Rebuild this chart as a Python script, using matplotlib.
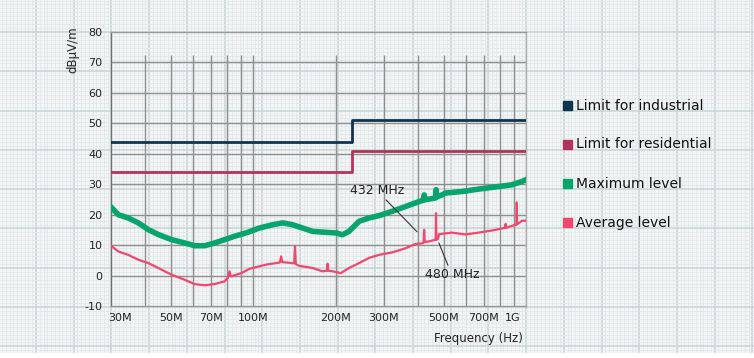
import matplotlib
matplotlib.use('Agg')
import matplotlib.pyplot as plt
from matplotlib.patches import Rectangle

# --- data (frequency in MHz, level in dBuV/m) ---
limit_freq = [30, 230, 230, 1000]
limit_industrial = [44, 44, 51, 51]
limit_residential = [34, 34, 41, 41]

max_freq = [30, 31.9, 34.7, 37.8, 41.1, 44.7, 50, 56, 60.8, 66.2, 72, 78.3, 85.2,
            95.3, 105, 117.6, 128, 139, 151.5, 165, 184.5, 201, 212, 224, 244,
            265, 289, 323, 362, 405, 420, 423, 426, 440, 466, 468, 470, 492,
            506, 582, 670, 771, 887, 966, 1000]
max_level = [22.5, 20.0, 18.9, 17.3, 15.1, 13.5, 11.8, 10.7, 9.8, 9.8, 10.7, 11.8, 12.9,
             14.2, 15.6, 16.7, 17.3, 16.7, 15.6, 14.5, 14.2, 14.0, 13.4, 14.5, 17.8,
             18.9, 19.7, 21.1, 22.7, 24.3, 24.8, 26.5, 24.9, 25.1, 25.5, 28.2, 25.8, 26.5,
             27.1, 27.6, 28.4, 29.1, 29.8, 30.9, 31.5]

avg_freq = [30, 31.9, 34.7, 37.8, 41.1, 44.7, 50, 56, 60.8, 66.2, 72, 78.3, 80.5,
            81.7, 82.5, 90.2, 96.6, 99.4, 111.3, 121, 125, 126.3, 127.5, 131.7, 141,
            142, 143, 147, 164.8, 179, 186, 187, 188, 195, 209, 224.4, 244, 265.5,
            289, 323, 362, 393.6, 418, 421, 423, 425, 440, 466, 467.5, 469, 475,
            480, 535, 599, 670, 750, 839, 842, 845, 923, 925, 927, 966, 1000]
avg_level = [9.8, 7.9, 6.8, 5.2, 4.1, 2.5, 0.3, -1.4, -2.8, -3.2, -2.8, -1.9, -0.8,
             1.4, -0.3, 0.8, 2.2, 2.5, 3.6, 4.1, 4.3, 6.3, 4.4, 4.3, 4.0,
             9.6, 3.8, 3.2, 2.5, 1.4, 1.6, 3.9, 1.6, 1.4, 0.8, 2.5, 4.1, 5.8,
             6.8, 7.6, 9.0, 10.4, 10.6, 11.0, 15.0, 11.0, 11.2, 11.8, 20.5, 11.8, 12.0,
             13.6, 14.1, 13.5, 14.1, 14.8, 15.7, 17.0, 15.7, 16.8, 24.0, 16.8, 18.0, 18.0]

x_ticks = [30, 50, 70, 100, 200, 300, 500, 700, 1000]
x_tick_labels = ['30M', '50M', '70M', '100M', '200M', '300M', '500M', '700M', '1G']
y_ticks = [-10, 0, 10, 20, 30, 40, 50, 60, 70, 80]

series_names = ['Limit for industrial', 'Limit for residential', 'Maximum level', 'Average level']
series_colors = ['#0f3450', '#b3345a', '#07a56b', '#ef476d']

W, H = 754, 358

fig = plt.figure(figsize=(W / 100, H / 100), dpi=100)
fig.patch.set_facecolor('white')

# graph paper background, drawn in pixel coordinates
bg = fig.add_axes([0, 0, 1, 1], zorder=0)
bg.set_xlim(0, W)
bg.set_ylim(H, 0)
bg.axis('off')
paper_bottom = 352
bg.add_patch(Rectangle((0, 0), W, paper_bottom, color='#f3f5f5', zorder=0))
maj_x, maj_y = 37.7, 39.3
for i in range(-20, 220):
    x = 36 + i * maj_x / 10
    if 0 <= x <= W:
        major = i % 10 == 0
        bg.plot([x, x], [0, paper_bottom], color='#cbd5d9' if major else '#e2e8ea',
                lw=1.2 if major else 0.6, zorder=1)
for i in range(-10, 100):
    y = 32 + i * maj_y / 10
    if 0 <= y <= paper_bottom:
        major = i % 10 == 0
        bg.plot([0, W], [y, y], color='#cbd5d9' if major else '#e2e8ea',
                lw=1.2 if major else 0.6, zorder=1)

# legend on the right
legend_y = [105.5, 144.5, 183.5, 222.5]
for name, color, y in zip(series_names, series_colors, legend_y):
    bg.add_patch(Rectangle((563, y - 4.5), 9, 9, color=color, zorder=3))
    bg.text(576, y, name, fontsize=10, va='center', ha='left', color='#111111', zorder=3)

# main chart
left, right, top, bottom = 111, 526, 32, 306
ax = fig.add_axes([left / W, 1 - bottom / H, (right - left) / W, (bottom - top) / H], zorder=2)
ax.set_facecolor('none')
ax.set_xscale('log')
ax.set_xlim(30, 1000)
ax.set_ylim(-10, 80)

grid_x = [40, 50, 60, 70, 80, 90, 100, 200, 300, 400, 500, 600, 700, 800, 900]
ax.vlines(grid_x, -10, 72.5, color='#8f8f8f', lw=1.0, zorder=1)
ax.hlines([0, 10, 20, 30, 40, 50, 60, 70], 30, 1000, color='#8f8f8f', lw=1.0, zorder=1)

ax.plot(limit_freq, limit_industrial, color=series_colors[0], lw=2.0, zorder=3)
ax.plot(limit_freq, limit_residential, color=series_colors[1], lw=2.0, zorder=3)
ax.plot(max_freq, max_level, color=series_colors[2], lw=4.0, zorder=4,
        solid_joinstyle='round')
ax.plot(avg_freq, avg_level, color=series_colors[3], lw=1.6, zorder=4)

for side, c in [('top', '#999999'), ('bottom', '#999999'), ('left', '#6f6f6f'), ('right', '#b0b0b0')]:
    ax.spines[side].set_color(c)
    ax.spines[side].set_linewidth(1.0)

ax.set_yticks(y_ticks)
ax.set_yticklabels([str(v) for v in y_ticks], fontsize=8, color='#222222')
ax.tick_params(axis='y', length=0, pad=6)
ax.set_xticks([])
ax.xaxis.set_minor_locator(matplotlib.ticker.NullLocator())

for f, lbl in zip(x_ticks, x_tick_labels):
    dx = 0
    if f == x_ticks[0]:
        dx = 6.5
    elif f == x_ticks[-1]:
        dx = -9.5
    ax.annotate(lbl, (f, 0), xycoords=('data', 'axes fraction'), xytext=(dx, -5),
                textcoords='offset points', ha='center', va='top', fontsize=8, color='#222222')

ax.annotate('Frequency (Hz)', (1, 0), xycoords='axes fraction', xytext=(-2, -19),
            textcoords='offset points', ha='right', va='top', fontsize=8.5, color='#222222')
fig.text(73 / W, 1 - 50 / H, 'dBμV/m', rotation=90, ha='center', va='center',
         fontsize=8.5, color='#222222')

# peak callouts
ax.annotate('432 MHz', xy=(398, 14.4), xytext=(284, 27.9), ha='center', va='center',
            fontsize=9, color='#222222', zorder=5,
            arrowprops=dict(arrowstyle='-', color='#333333', lw=0.8, shrinkA=0, shrinkB=0))
ax.annotate('480 MHz', xy=(479, 10.7), xytext=(534, 0.3), ha='center', va='center',
            fontsize=9, color='#222222', zorder=5,
            arrowprops=dict(arrowstyle='-', color='#333333', lw=0.8, shrinkA=0, shrinkB=0))

plt.savefig('out.png', dpi=100)
plt.close()
